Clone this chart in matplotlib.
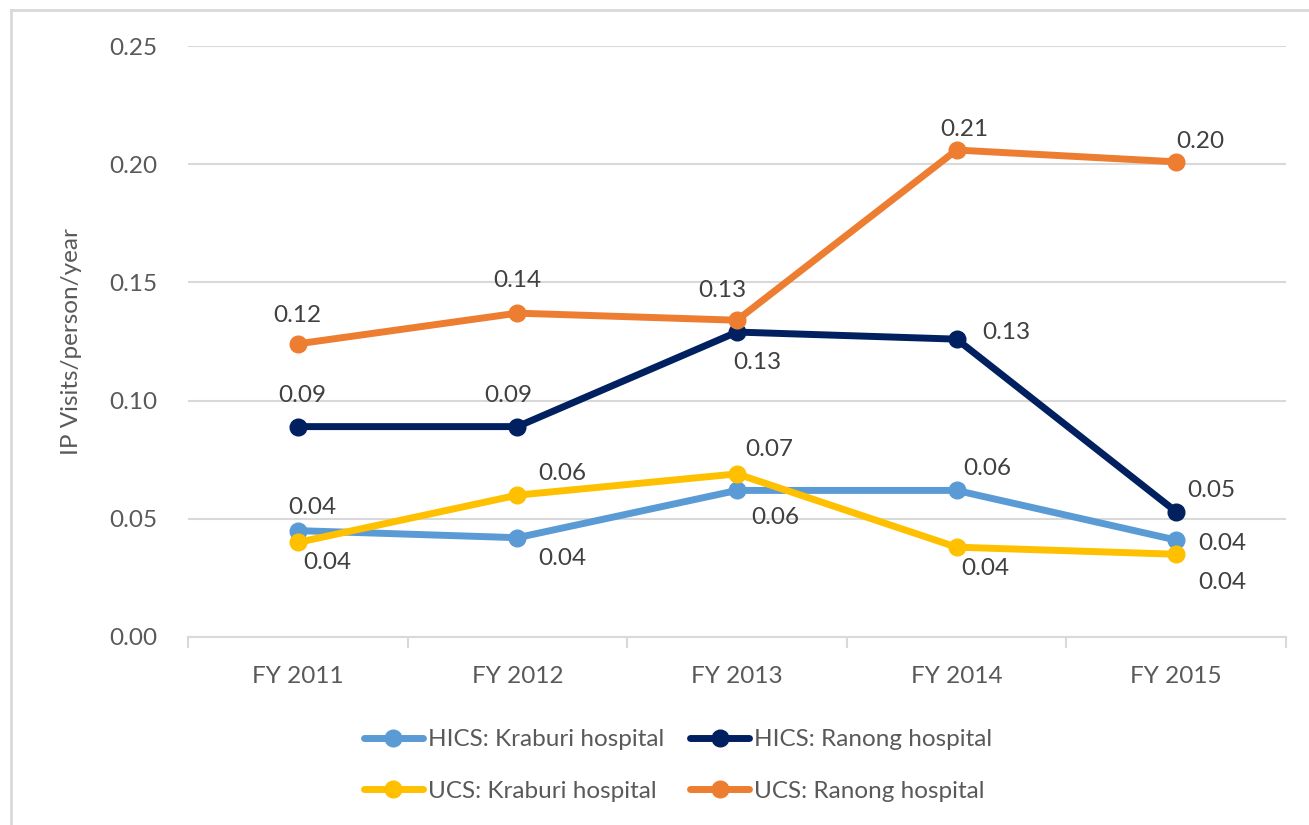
import matplotlib
matplotlib.use("Agg")
import matplotlib.pyplot as plt
from matplotlib.lines import Line2D

# data
years = ["FY 2011", "FY 2012", "FY 2013", "FY 2014", "FY 2015"]
hics_kraburi = [0.045, 0.042, 0.062, 0.062, 0.041]
hics_ranong = [0.089, 0.089, 0.129, 0.126, 0.053]
ucs_kraburi = [0.040, 0.060, 0.069, 0.038, 0.035]
ucs_ranong = [0.124, 0.137, 0.134, 0.206, 0.201]

names = ["HICS: Kraburi hospital", "HICS: Ranong hospital",
         "UCS: Kraburi hospital", "UCS: Ranong hospital"]
colors = ["#5B9BD5", "#002060", "#FFC000", "#ED7D31"]

# label offsets in pixels (dx, dy) for each point
offsets = [
    [(15, 23), (45, -21), (38, -27), (31, 22), (46, -3)],
    [(4, 31), (-9, 31), (20, -30), (50, 7), (35, 21)],
    [(30, -20), (45, 22), (32, 24), (29, -21), (46, -28)],
    [(0, 28), (0, 33), (-15, 30), (8, 21), (24, 20)],
]

FS = 17.5
plt.rcParams['font.family'] = ['Lato', 'DejaVu Sans']
fig = plt.figure(figsize=(13.09, 8.25), dpi=100)
ax = fig.add_axes([0.1436, 0.2279, 0.8388, 0.7163])

x = list(range(len(years)))
series = [hics_kraburi, hics_ranong, ucs_kraburi, ucs_ranong]
lines = []
for vals, name, col, offs in zip(series, names, colors, offsets):
    ln, = ax.plot(x, vals, color=col, lw=5, marker='o', markersize=12,
                  label=name, solid_capstyle='round', zorder=3)
    lines.append(ln)
    for xi, v, (dx, dy) in zip(x, vals, offs):
        ax.annotate(f"{v:.2f}", (xi, v), xytext=(dx, dy), textcoords='offset pixels',
                    ha='center', va='center', fontsize=FS, color='#404040', zorder=4)

ax.set_xlim(-0.5, 4.5)
ax.set_ylim(0, 0.25)
ax.set_yticks([0, 0.05, 0.10, 0.15, 0.20, 0.25])
ax.set_yticklabels(["0.00", "0.05", "0.10", "0.15", "0.20", "0.25"])
ax.set_xticks(x)
ax.set_xticklabels(years)
ax.set_xticks([i - 0.5 for i in range(len(years) + 1)], minor=True)
ax.tick_params(axis='x', which='major', length=0, pad=21, labelsize=FS, labelcolor='#595959')
ax.tick_params(axis='x', which='minor', length=8, width=1.5, color='#D9D9D9')
ax.tick_params(axis='y', length=0, pad=22, labelsize=FS, labelcolor='#595959')
ax.grid(axis='y', color='#D9D9D9', lw=1.5)
ax.set_axisbelow(True)
for s in ['top', 'right', 'left']:
    ax.spines[s].set_visible(False)
ax.spines['bottom'].set_color('#D9D9D9')
ax.spines['bottom'].set_linewidth(1.5)
ax.set_ylabel("IP Visits/person/year", fontsize=FS, color='#595959', labelpad=20)

order = [0, 2, 1, 3]
fig.legend([lines[i] for i in order], [names[i] for i in order], ncol=2,
           loc='center', bbox_to_anchor=(0.518, 0.072), frameon=False,
           fontsize=FS, labelcolor='#595959', handlelength=2.4, handletextpad=0.2,
           columnspacing=1.1, labelspacing=1.25)

# outer frame (top and left edges)
fig.add_artist(Line2D([11 / 1309, 11 / 1309], [0, 1 - 10 / 825], color='#D9D9D9', lw=2))
fig.add_artist(Line2D([11 / 1309, 1], [1 - 10 / 825, 1 - 10 / 825], color='#D9D9D9', lw=2))

fig.savefig("out.png", dpi=100)
